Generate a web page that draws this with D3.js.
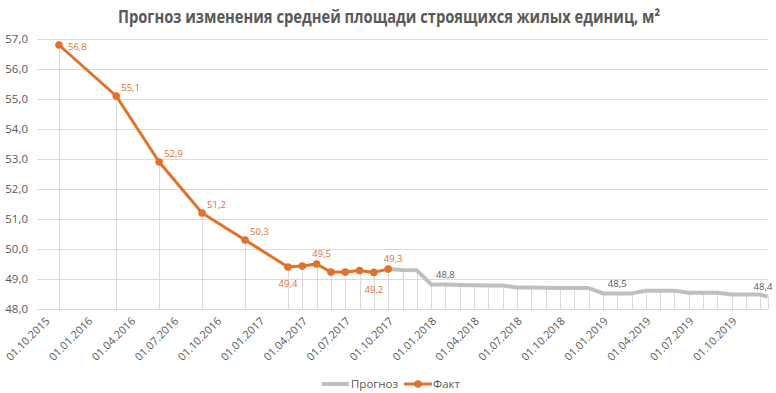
<!DOCTYPE html>
<html>
<head>
<meta charset="utf-8">
<script src="https://cdn.jsdelivr.net/npm/d3@7"></script>
<style>
  body { margin: 0; background: #fff; }
  text { font-family: "Open Sans", "DejaVu Sans", sans-serif; }
</style>
</head>
<body>
<div id="chart"></div>
<script>
// Month offsets are counted from 01.10.2015 (= 0)
const tickLabels = ["01.10.2015", "01.01.2016", "01.04.2016", "01.07.2016", "01.10.2016",
    "01.01.2017", "01.04.2017", "01.07.2017", "01.10.2017", "01.01.2018", "01.04.2018",
    "01.07.2018", "01.10.2018", "01.01.2019", "01.04.2019", "01.07.2019", "01.10.2019"];
const yTicks = [48, 49, 50, 51, 52, 53, 54, 55, 56, 57];

const factMonths = [1, 5, 8, 11, 14, 17, 18, 19, 20, 21, 22, 23, 24];
const factValues = [56.8, 55.1, 52.9, 51.2, 50.3, 49.4, 49.43, 49.5, 49.23, 49.23, 49.28, 49.22, 49.33];

const forecastMonths = [24, 25, 26, 27, 28, 29, 30, 31, 32, 33, 34, 35, 36, 37, 38, 39, 40,
    41, 42, 43, 44, 45, 46, 47, 48, 49, 50, 50.5];
const forecastValues = [49.33, 49.3, 49.29, 48.82, 48.82, 48.8, 48.79, 48.78, 48.78, 48.72,
    48.72, 48.71, 48.7, 48.7, 48.7, 48.52, 48.52, 48.52, 48.61, 48.61, 48.61, 48.54, 48.54,
    48.54, 48.48, 48.48, 48.48, 48.41];

// which points carry a value label, and where it sits
const factLabels = [
    { i: 0, pos: "right" }, { i: 1, pos: "upright" }, { i: 2, pos: "upright" },
    { i: 3, pos: "upright" }, { i: 4, pos: "upright" }, { i: 5, pos: "below" },
    { i: 7, pos: "above" }, { i: 11, pos: "below" }, { i: 12, pos: "above" }
];
const forecastLabels = [{ i: 4 }, { i: 16 }, { i: 27 }];

function init() {
    const w = 776, h = 393;
    const orange = "#E2712A";
    const grey = "#BFBFBF";
    const gridColor = "#D9D9D9";
    const textColor = "#595959";
    const fmt = v => d3.format(".1f")(v).replace(".", ",");

    const x = d3.scaleLinear().domain([-0.5, 50.5]).range([37.5, 767.5]);
    const y = d3.scaleLinear().domain([48, 57]).range([309, 39]);

    const svg = d3.select("#chart").append("svg")
        .attr("width", w)
        .attr("height", h);

    // Title
    svg.append("text")
        .attr("x", 389)
        .attr("y", 23)
        .attr("text-anchor", "middle")
        .attr("font-size", "17.5px")
        .attr("font-weight", "bold")
        .attr("fill", textColor)
        .attr("textLength", 542)
        .attr("lengthAdjust", "spacingAndGlyphs")
        .text("Прогноз изменения средней площади строящихся жилых единиц, м²");

    // Horizontal gridlines
    svg.append("g")
        .selectAll("line")
        .data(yTicks)
        .join("line")
        .attr("x1", x.range()[0])
        .attr("x2", x.range()[1])
        .attr("y1", d => Math.round(y(d)) + 0.5)
        .attr("y2", d => Math.round(y(d)) + 0.5)
        .attr("stroke", gridColor);

    // Y labels
    svg.append("g")
        .selectAll("text")
        .data(yTicks)
        .join("text")
        .attr("x", 28)
        .attr("y", d => y(d))
        .attr("dy", "0.35em")
        .attr("text-anchor", "end")
        .attr("font-size", "11.5px")
        .attr("fill", textColor)
        .text(fmt);

    const fact = factMonths.map((m, i) => ({ m: m, v: factValues[i] }));
    const forecast = forecastMonths.map((m, i) => ({ m: m, v: forecastValues[i] }));

    // Drop lines
    const drops = svg.append("g");
    [fact, forecast].forEach(series => {
        drops.selectAll(null)
            .data(series)
            .join("line")
            .attr("x1", d => Math.round(x(d.m)) + 0.5)
            .attr("x2", d => Math.round(x(d.m)) + 0.5)
            .attr("y1", d => y(d.v))
            .attr("y2", y(48))
            .attr("stroke", gridColor);
    });

    // X labels
    svg.append("g")
        .selectAll("text")
        .data(tickLabels)
        .join("text")
        .attr("transform", (d, i) => `translate(${x(i * 3) + 3},${319}) rotate(-45)`)
        .attr("text-anchor", "end")
        .attr("dy", "0.35em")
        .attr("font-size", "11px")
        .attr("fill", textColor)
        .text(d => d);

    const line = d3.line().x(d => x(d.m)).y(d => y(d.v));

    // Forecast line
    svg.append("path")
        .datum(forecast)
        .attr("d", line)
        .attr("fill", "none")
        .attr("stroke", grey)
        .attr("stroke-width", 4)
        .attr("stroke-linejoin", "round");

    // Fact line
    svg.append("path")
        .datum(fact)
        .attr("d", line)
        .attr("fill", "none")
        .attr("stroke", orange)
        .attr("stroke-width", 3)
        .attr("stroke-linejoin", "round");

    svg.append("g")
        .selectAll("circle")
        .data(fact)
        .join("circle")
        .attr("cx", d => x(d.m))
        .attr("cy", d => y(d.v))
        .attr("r", 3.8)
        .attr("fill", orange);

    // Value labels
    const offsets = {
        right: [9, 2, "start"],
        upright: [5, -8, "start"],
        below: [0, 17, "middle"],
        above: [5, -10, "middle"]
    };
    svg.append("g")
        .selectAll("text")
        .data(factLabels)
        .join("text")
        .attr("x", d => x(fact[d.i].m) + offsets[d.pos][0])
        .attr("y", d => y(fact[d.i].v) + offsets[d.pos][1])
        .attr("dy", "0.35em")
        .attr("text-anchor", d => offsets[d.pos][2])
        .attr("font-size", "9.5px")
        .attr("fill", orange)
        .text(d => fmt(fact[d.i].v));

    svg.append("g")
        .selectAll("text")
        .data(forecastLabels)
        .join("text")
        .attr("x", d => Math.min(x(forecast[d.i].m), 763))
        .attr("y", d => y(forecast[d.i].v) - 10)
        .attr("dy", "0.35em")
        .attr("text-anchor", "middle")
        .attr("font-size", "9.5px")
        .attr("fill", textColor)
        .text(d => fmt(forecast[d.i].v));

    // Legend
    const legend = svg.append("g").attr("transform", "translate(0,384)");
    legend.append("line")
        .attr("x1", 322).attr("x2", 349)
        .attr("stroke", grey).attr("stroke-width", 4);
    legend.append("text")
        .attr("x", 351).attr("dy", "0.35em")
        .attr("font-size", "11.5px").attr("fill", textColor)
        .text("Прогноз");
    legend.append("line")
        .attr("x1", 404).attr("x2", 432)
        .attr("stroke", orange).attr("stroke-width", 3);
    legend.append("circle")
        .attr("cx", 418).attr("r", 3.8).attr("fill", orange);
    legend.append("text")
        .attr("x", 433).attr("dy", "0.35em")
        .attr("font-size", "11.5px").attr("fill", textColor)
        .text("Факт");
}

window.onload = init;
</script>
</body>
</html>
